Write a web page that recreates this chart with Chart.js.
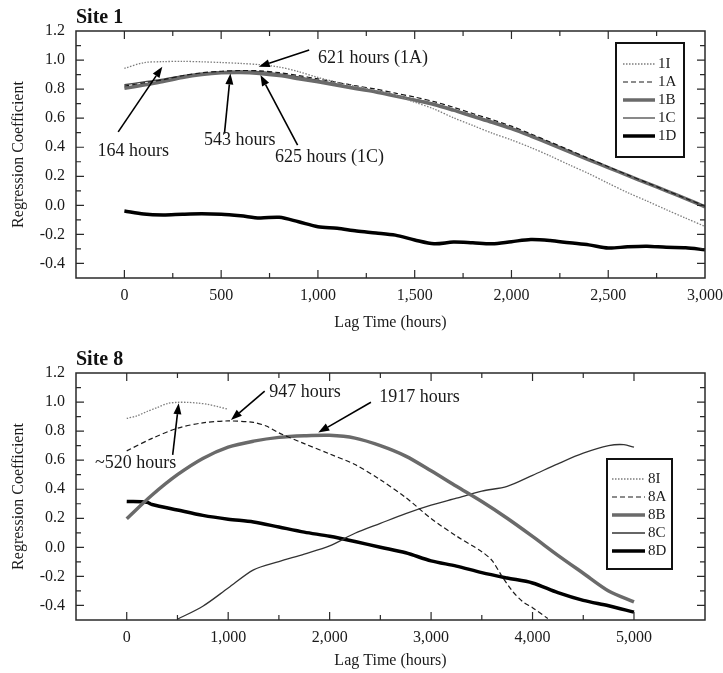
<!DOCTYPE html>
<html>
<head>
<meta charset="utf-8">
<title>Regression coefficient vs lag time</title>
<script src="https://cdn.jsdelivr.net/npm/chart.js@4.4.0/dist/chart.umd.min.js"></script>
<style>
  html, body { margin: 0; padding: 0; background: #fff; }
  #wrap { position: relative; width: 723px; height: 673px; }
  .panel { position: absolute; left: 0; width: 723px; }
  #panel1 { top: 0; height: 333px; }
  #panel8 { top: 333px; height: 340px; }
</style>
</head>
<body>
<div id="wrap">
  <div class="panel" id="panel1"><canvas id="site1"></canvas></div>
  <div class="panel" id="panel8"><canvas id="site8"></canvas></div>
</div>
<script>
// --- data ---
const FONT = "'Liberation Serif', 'Times New Roman', serif";

const site1Hours = [0, 100, 200, 300, 400, 500, 600, 700, 800, 900, 1000,
  1100, 1200, 1300, 1400, 1500, 1600, 1700, 1800, 1900, 2000,
  2100, 2200, 2300, 2400, 2500, 2600, 2700, 2800, 2900, 3000];
const site1I = [0.943, 0.982, 0.989, 0.991, 0.988, 0.983, 0.977, 0.968, 0.952, 0.92, 0.88,
  0.847, 0.817, 0.79, 0.758, 0.71, 0.663, 0.603, 0.55, 0.497, 0.45,
  0.398, 0.34, 0.278, 0.218, 0.152, 0.088, 0.03, -0.03, -0.088, -0.145];
const site1A = [0.82, 0.843, 0.865, 0.892, 0.912, 0.923, 0.928, 0.926, 0.913, 0.893, 0.87,
  0.846, 0.822, 0.8, 0.772, 0.745, 0.714, 0.675, 0.632, 0.59, 0.545,
  0.492, 0.436, 0.38, 0.322, 0.266, 0.21, 0.156, 0.102, 0.048, -0.005];
const site1B = [0.805, 0.828, 0.852, 0.88, 0.9, 0.912, 0.915, 0.908, 0.893, 0.872, 0.85,
  0.826, 0.802, 0.78, 0.752, 0.724, 0.694, 0.655, 0.613, 0.572, 0.528,
  0.477, 0.423, 0.368, 0.313, 0.26, 0.206, 0.153, 0.1, 0.046, -0.01];
const site1C = [0.83, 0.85, 0.868, 0.893, 0.91, 0.92, 0.925, 0.92, 0.905, 0.884, 0.86,
  0.835, 0.81, 0.787, 0.758, 0.73, 0.7, 0.66, 0.618, 0.577, 0.532,
  0.48, 0.426, 0.371, 0.316, 0.262, 0.208, 0.155, 0.102, 0.048, -0.005];
const site1D = [-0.039, -0.06, -0.066, -0.061, -0.058, -0.061, -0.072, -0.087, -0.082, -0.113, -0.147,
  -0.158, -0.177, -0.19, -0.205, -0.238, -0.264, -0.253, -0.258, -0.265, -0.25,
  -0.235, -0.242, -0.258, -0.272, -0.294, -0.285, -0.281, -0.289, -0.292, -0.306];

const site8IHours = [0, 100, 200, 300, 400, 500, 600, 700, 800, 900, 1000];
const site8I = [0.888, 0.905, 0.935, 0.962, 0.99, 0.998, 0.998, 0.993, 0.984, 0.968, 0.95];

const site8AHours = [0, 250, 500, 750, 1000, 1250, 1375, 1500, 1750, 2000, 2250, 2500,
  2750, 3000, 3250, 3500, 3600, 3700, 3800, 3900, 4000, 4150];
const site8A = [0.664, 0.75, 0.82, 0.857, 0.87, 0.86, 0.835, 0.788, 0.714, 0.643, 0.57, 0.465,
  0.343, 0.198, 0.078, -0.03, -0.09, -0.2, -0.3, -0.372, -0.415, -0.49];

const site8BHours = [0, 250, 500, 750, 1000, 1250, 1500, 1750, 2000, 2250, 2500,
  2750, 3000, 3250, 3500, 3750, 4000, 4250, 4500, 4750, 5000];
const site8B = [0.197, 0.36, 0.5, 0.612, 0.69, 0.731, 0.757, 0.768, 0.771, 0.752, 0.7,
  0.628, 0.527, 0.42, 0.315, 0.2, 0.075, -0.055, -0.178, -0.3, -0.375];

const site8CHours = [500, 750, 1000, 1250, 1500, 1750, 2000, 2250, 2500, 2750, 3000,
  3250, 3500, 3750, 4000, 4250, 4500, 4750, 4900, 5000];
const site8C = [-0.495, -0.405, -0.28, -0.155, -0.098, -0.046, 0.01, 0.097, 0.165, 0.232, 0.29,
  0.338, 0.387, 0.42, 0.496, 0.575, 0.648, 0.7, 0.707, 0.689];

const site8DHours = [0, 200, 250, 500, 750, 1000, 1250, 1500, 1750, 2000, 2250, 2500,
  2750, 3000, 3250, 3500, 3750, 4000, 4250, 4500, 4750, 5000];
const site8D = [0.316, 0.311, 0.295, 0.257, 0.22, 0.194, 0.175, 0.14, 0.105, 0.076, 0.04, 0.001,
  -0.037, -0.093, -0.129, -0.174, -0.211, -0.245, -0.312, -0.365, -0.402, -0.446];

const site1XTicks = [0, 500, 1000, 1500, 2000, 2500, 3000];
const site8XTicks = [0, 1000, 2000, 3000, 4000, 5000];
const yTicks = [-0.4, -0.2, 0, 0.2, 0.4, 0.6, 0.8, 1.0, 1.2];

// annotation text spots and arrows, in data units
const site1Notes = [
  { text: '621 hours (1A)', at: [1000, 1.014], from: [955, 1.069], to: [694, 0.954] },
  { text: '164 hours', at: [-139, 0.372], from: [-32, 0.506], to: [196, 0.954] },
  { text: '543 hours', at: [412, 0.448], from: [517, 0.494], to: [548, 0.908] },
  { text: '625 hours (1C)', at: [778, 0.331], from: [895, 0.414], to: [703, 0.897] }
];
const site8Notes = [
  { text: '947 hours', at: [1405, 1.066], from: [1360, 1.075], to: [1027, 0.877] },
  { text: '1917 hours', at: [2489, 1.032], from: [2407, 0.999], to: [1888, 0.79] },
  { text: '~520 hours', at: [-312, 0.58], from: [453, 0.637], to: [512, 0.992] }
];

// line looks, in order I, A, B, C, D
const looks = [
  { color: '#7c7c7c', width: 1.3, dash: [1.5, 1.5] },
  { color: '#1a1a1a', width: 1.2, dash: [5, 3] },
  { color: '#6a6a6a', width: 3.5, dash: [] },
  { color: '#4a4a4a', width: 1.3, dash: [] },
  { color: '#000000', width: 3.5, dash: [] }
];

function series(label, hours, values, look) {
  return {
    label: label,
    data: hours.map((h, i) => ({ x: h, y: values[i] })),
    borderColor: look.color,
    borderWidth: look.width,
    borderDash: look.dash,
    pointRadius: 0,
    fill: false,
    tension: 0.3
  };
}

function drawArrow(ctx, x1, y1, x2, y2) {
  const ang = Math.atan2(y2 - y1, x2 - x1);
  const hl = 11, hw = 4;
  const bx = x2 - hl * Math.cos(ang), by = y2 - hl * Math.sin(ang);
  ctx.beginPath();
  ctx.moveTo(x1, y1);
  ctx.lineTo(bx, by);
  ctx.stroke();
  ctx.beginPath();
  ctx.moveTo(x2, y2);
  ctx.lineTo(bx + hw * Math.sin(ang), by - hw * Math.cos(ang));
  ctx.lineTo(bx - hw * Math.sin(ang), by + hw * Math.cos(ang));
  ctx.closePath();
  ctx.fill();
}

// frame with inward ticks on all sides, panel title, boxed legend, arrows
const framePlugin = {
  id: 'frame',
  afterDatasetsDraw(chart, args, o) {
    const { ctx, chartArea: a, scales: { x, y } } = chart;
    ctx.save();
    ctx.strokeStyle = '#2a2a2a';
    ctx.lineWidth = 1.5;
    ctx.strokeRect(a.left, a.top, a.right - a.left, a.bottom - a.top);

    ctx.lineWidth = 1.2;
    ctx.beginPath();
    const nx = Math.round((x.max - x.min) / o.xMinor);
    for (let i = 1; i < nx; i++) {
      const v = x.min + i * o.xMinor;
      const major = Math.abs(v / o.xMajor - Math.round(v / o.xMajor)) < 1e-6;
      const len = major ? 8 : 5;
      const px = x.getPixelForValue(v);
      ctx.moveTo(px, a.bottom); ctx.lineTo(px, a.bottom - len);
      ctx.moveTo(px, a.top); ctx.lineTo(px, a.top + len);
    }
    const ny = Math.round((y.max - y.min) / 0.1);
    for (let i = 1; i < ny; i++) {
      const v = y.min + i * 0.1;
      const major = Math.abs(v / 0.2 - Math.round(v / 0.2)) < 1e-6;
      const len = major ? 8 : 5;
      const py = y.getPixelForValue(v);
      ctx.moveTo(a.left, py); ctx.lineTo(a.left + len, py);
      ctx.moveTo(a.right, py); ctx.lineTo(a.right - len, py);
    }
    ctx.stroke();

    // panel title
    ctx.fillStyle = '#111';
    ctx.font = 'bold 20px ' + FONT;
    ctx.textAlign = 'left';
    ctx.textBaseline = 'alphabetic';
    ctx.fillText(o.title, a.left, a.top - 8);

    // arrows and notes
    ctx.strokeStyle = '#000';
    ctx.fillStyle = '#000';
    ctx.lineWidth = 1.6;
    o.notes.forEach(n => {
      drawArrow(ctx, x.getPixelForValue(n.from[0]), y.getPixelForValue(n.from[1]),
        x.getPixelForValue(n.to[0]), y.getPixelForValue(n.to[1]));
    });
    ctx.fillStyle = '#1a1a1a';
    ctx.font = '18px ' + FONT;
    ctx.textBaseline = 'middle';
    o.notes.forEach(n => {
      ctx.fillText(n.text, x.getPixelForValue(n.at[0]), y.getPixelForValue(n.at[1]));
    });

    // legend
    const L = o.legend;
    const lx = a.right - L.right, ly = a.top + L.top;
    ctx.fillStyle = '#fff';
    ctx.fillRect(lx, ly, L.w, L.h);
    ctx.strokeStyle = '#111';
    ctx.lineWidth = 2;
    ctx.setLineDash([]);
    ctx.strokeRect(lx, ly, L.w, L.h);
    ctx.font = '15px ' + FONT;
    ctx.textBaseline = 'middle';
    chart.data.datasets.forEach((ds, i) => {
      const ry = ly + L.first + i * 18;
      ctx.strokeStyle = ds.borderColor;
      ctx.lineWidth = ds.borderWidth;
      ctx.setLineDash(ds.borderDash);
      ctx.beginPath();
      ctx.moveTo(lx + L.lineStart, ry);
      ctx.lineTo(lx + L.lineEnd, ry);
      ctx.stroke();
      ctx.setLineDash([]);
      ctx.fillStyle = '#1a1a1a';
      ctx.fillText(ds.label, lx + L.lineEnd + 3, ry);
    });
    ctx.restore();
  }
};

function axisOptions(xMin, xMax, xTicks, xHeight, titlePad) {
  const tickFont = { family: FONT, size: 16 };
  return {
    x: {
      type: 'linear', min: xMin, max: xMax,
      afterBuildTicks: s => { s.ticks = xTicks.map(v => ({ value: v })); },
      afterFit: s => { s.height = xHeight; s.paddingLeft = 0; s.paddingRight = 0; },
      grid: { display: false, drawTicks: false },
      border: { display: false },
      ticks: { color: '#1a1a1a', font: tickFont, padding: 8, maxRotation: 0, autoSkip: false,
        callback: v => v.toLocaleString('en-US') },
      title: { display: true, text: 'Lag Time (hours)', color: '#1a1a1a', font: tickFont,
        padding: { top: 0, bottom: titlePad } }
    },
    y: {
      type: 'linear', min: -0.5, max: 1.2,
      afterBuildTicks: s => { s.ticks = yTicks.map(v => ({ value: v })); },
      afterFit: s => { s.width = 76; s.paddingTop = 0; s.paddingBottom = 0; },
      grid: { display: false, drawTicks: false },
      border: { display: false },
      ticks: { color: '#1a1a1a', font: tickFont, padding: 11, autoSkip: false,
        callback: v => v.toFixed(1) },
      title: { display: true, text: 'Regression Coefficient', color: '#1a1a1a', font: tickFont,
        padding: { top: 9, bottom: 0 } }
    }
  };
}

new Chart(document.getElementById('site1'), {
  type: 'line',
  data: {
    datasets: [
      series('1I', site1Hours, site1I, looks[0]),
      series('1A', site1Hours, site1A, looks[1]),
      series('1B', site1Hours, site1B, looks[2]),
      series('1C', site1Hours, site1C, looks[3]),
      series('1D', site1Hours, site1D, looks[4])
    ]
  },
  options: {
    responsive: true,
    maintainAspectRatio: false,
    animation: false,
    events: [],
    layout: { padding: { top: 31, right: 18, left: 0, bottom: 0 } },
    scales: axisOptions(-250, 3000, site1XTicks, 55, 1),
    plugins: {
      legend: { display: false },
      tooltip: { enabled: false },
      frame: {
        title: 'Site 1', xMinor: 250, xMajor: 500, notes: site1Notes,
        legend: { right: 89, top: 12, w: 68, h: 114, first: 21, lineStart: 7, lineEnd: 39 }
      }
    }
  },
  plugins: [framePlugin]
});

new Chart(document.getElementById('site8'), {
  type: 'line',
  data: {
    datasets: [
      series('8I', site8IHours, site8I, looks[0]),
      series('8A', site8AHours, site8A, looks[1]),
      series('8B', site8BHours, site8B, looks[2]),
      series('8C', site8CHours, site8C, { color: '#333333', width: 1.3, dash: [] }),
      series('8D', site8DHours, site8D, looks[4])
    ]
  },
  options: {
    responsive: true,
    maintainAspectRatio: false,
    animation: false,
    events: [],
    layout: { padding: { top: 40, right: 18, left: 0, bottom: 0 } },
    scales: axisOptions(-500, 5700, site8XTicks, 53, 3),
    plugins: {
      legend: { display: false },
      tooltip: { enabled: false },
      frame: {
        title: 'Site 8', xMinor: 500, xMajor: 1000, notes: site8Notes,
        legend: { right: 98, top: 86, w: 65, h: 110, first: 20, lineStart: 5, lineEnd: 38 }
      }
    }
  },
  plugins: [framePlugin]
});
</script>
</body>
</html>
